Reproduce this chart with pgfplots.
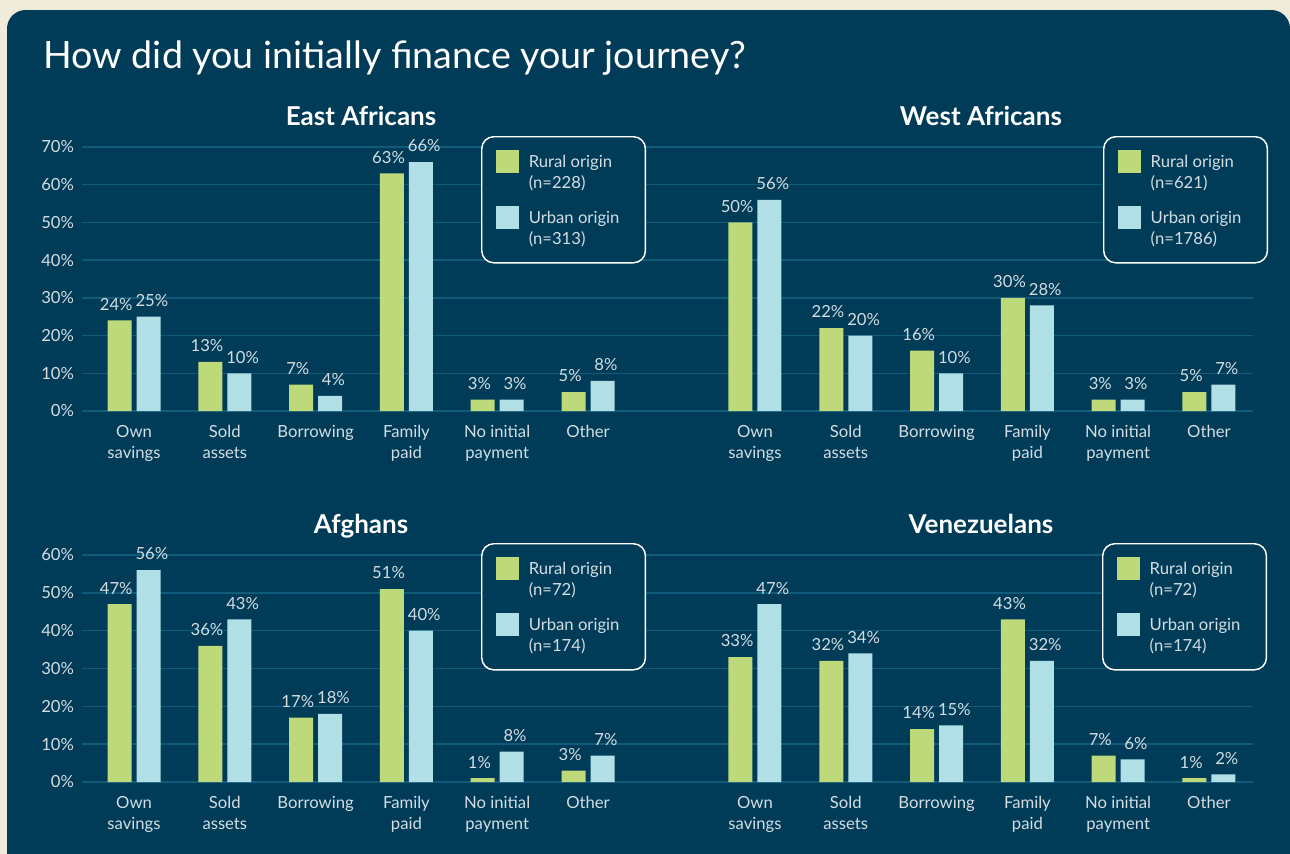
\documentclass[border=0pt]{standalone}
\usepackage{pgfplots}
\usepackage{pgfplotstable}
\pgfplotsset{compat=1.18}
\usepackage{fontspec}
\setmainfont{Lato}

\definecolor{beige}{HTML}{F1EBDA}
\definecolor{panel}{HTML}{003C58}
\definecolor{gridc}{HTML}{0E5C7A}
\definecolor{rural}{HTML}{BDD97A}
\definecolor{urban}{HTML}{B0DFE6}
\definecolor{lbl}{HTML}{D3DDE2}

\newcommand{\lfont}{\fontsize{12.5}{15.75}\selectfont}

\pgfplotstableread{
x r u
0 24 25
1 13 10
2 7 4
3 63 66
4 3 3
5 5 8
}\eastdata
\pgfplotstableread{
x r u
0 50 56
1 22 20
2 16 10
3 30 28
4 3 3
5 5 7
}\westdata
\pgfplotstableread{
x r u
0 47 56
1 36 43
2 17 18
3 51 40
4 1 8
5 3 7
}\afghdata
\pgfplotstableread{
x r u
0 33 47
1 32 34
2 14 15
3 43 32
4 7 6
5 1 2
}\venedata

\pgfplotsset{
  panel/.style={
    scale only axis, anchor=south west,
    ybar=3.75pt, bar width=18pt,
    ymin=0, enlargelimits=false, clip=false,
    axis line style={draw=none},
    major tick length=0pt,
    ymajorgrids, grid style={gridc, line width=1.1pt},
    xtick={0,...,5},
    xticklabels={{Own\\savings},{Sold\\assets},{Borrowing},{Family\\paid},{No initial\\payment},{Other}},
    xticklabel style={align=center, font=\lfont, text=lbl, yshift=-7.5pt},
    yticklabel style={font=\lfont, text=lbl, xshift=-2.5pt},
    yticklabel={\pgfmathprintnumber{\tick}\%},
    /pgf/number format/assume math mode=true,
    nodes near coords={\pgfmathprintnumber{\pgfplotspointmeta}\%},
    every node near coord/.append style={font=\lfont, text=lbl, yshift=4pt},
    title style={font=\fontsize{19.5}{22}\selectfont\bfseries, text=white, anchor=base, yshift=10.5pt},
    legend style={anchor=north west, draw=white, line width=1.1pt, rounded corners=9pt,
      fill=panel, text=lbl, font=\lfont, inner xsep=10.5pt, inner ysep=10.2pt,
      row sep=9.6pt, /tikz/every odd column/.append style={column sep=5.5pt}},
    legend cell align=left,
  },
  noylabels/.style={yticklabel={\phantom{0}}},
  sq/.style={legend image code/.code={\fill[##1,draw=none,sharp corners] (0pt,-1.2pt) rectangle (17.25pt,16.05pt);}},
  rplot/.style={fill=rural, draw=none, sq, every node near coord/.append style={xshift=-2.5pt}},
  uplot/.style={fill=urban, draw=none, sq, every node near coord/.append style={xshift=2.5pt}},
}
\newcommand{\lent}[1]{\begin{tabular}[b]{@{}p{75pt}@{}}#1\end{tabular}}

\begin{document}
\begin{tikzpicture}
\path[use as bounding box] (0,0) rectangle (967.5pt,-640.5pt);
\fill[beige] (0,0) rectangle (967.5pt,-640.5pt);
\fill[panel, rounded corners=14pt] (5.25pt,-7.5pt) rectangle (967.5pt,-665pt);
\node[anchor=base west, text=white, font=\fontsize{28.2}{32}\selectfont, inner sep=0pt] at (32.5pt,-51pt) {How did you initially finance your journey?};

% East Africans
\begin{axis}[panel, at={(61.5pt,-308.25pt)}, width=441pt, height=198pt,
  xmin=-0.573, xmax=5.903, ymax=70, ytick={0,10,...,70},
  title={East Africans}, title style={at={(axis description cs:0.4745,1)}},
  legend style={at={(axis description cs:0.6786,1.0417)}}]
\addplot[rplot] table[x=x,y=r]{\eastdata};
\addlegendentry{\lent{Rural origin\\(n=228)}}
\addplot[uplot] table[x=x,y=u]{\eastdata};
\addlegendentry{\lent{Urban origin\\(n=313)}}
\end{axis}

% West Africans
\begin{axis}[panel, noylabels, at={(502.5pt,-308.25pt)}, width=437.25pt, height=198pt,
  xmin=-0.936, xmax=5.485, ymax=70, ytick={0,10,...,70},
  title={West Africans}, title style={at={(axis description cs:0.5334,1)}},
  legend style={at={(axis description cs:0.7427,1.0417)}}]
\addplot[rplot] table[x=x,y=r]{\westdata};
\addlegendentry{\lent{Rural origin\\(n=621)}}
\addplot[uplot] table[x=x,y=u]{\westdata};
\addlegendentry{\lent{Urban origin\\(n=1786)}}
\end{axis}

% Afghans
\begin{axis}[panel, at={(61.5pt,-586.5pt)}, width=441pt, height=170.25pt,
  xmin=-0.573, xmax=5.903, ymax=60, ytick={0,10,...,60},
  title={Afghans}, title style={at={(axis description cs:0.4745,1)}},
  legend style={at={(axis description cs:0.6786,1.0529)}}]
\addplot[rplot] table[x=x,y=r]{\afghdata};
\addlegendentry{\lent{Rural origin\\(n=72)}}
\addplot[uplot] table[x=x,y=u]{\afghdata};
\addlegendentry{\lent{Urban origin\\(n=174)}}
\end{axis}

% Venezuelans
\begin{axis}[panel, noylabels, at={(502.5pt,-586.5pt)}, width=437.25pt, height=170.25pt,
  xmin=-0.936, xmax=5.485, ymax=60, ytick={0,10,...,60},
  title={Venezuelans}, title style={at={(axis description cs:0.5334,1)}},
  legend style={at={(axis description cs:0.741,1.0529)}}]
\addplot[rplot] table[x=x,y=r]{\venedata};
\addlegendentry{\lent{Rural origin\\(n=72)}}
\addplot[uplot] table[x=x,y=u]{\venedata};
\addlegendentry{\lent{Urban origin\\(n=174)}}
\end{axis}
\end{tikzpicture}
\end{document}
